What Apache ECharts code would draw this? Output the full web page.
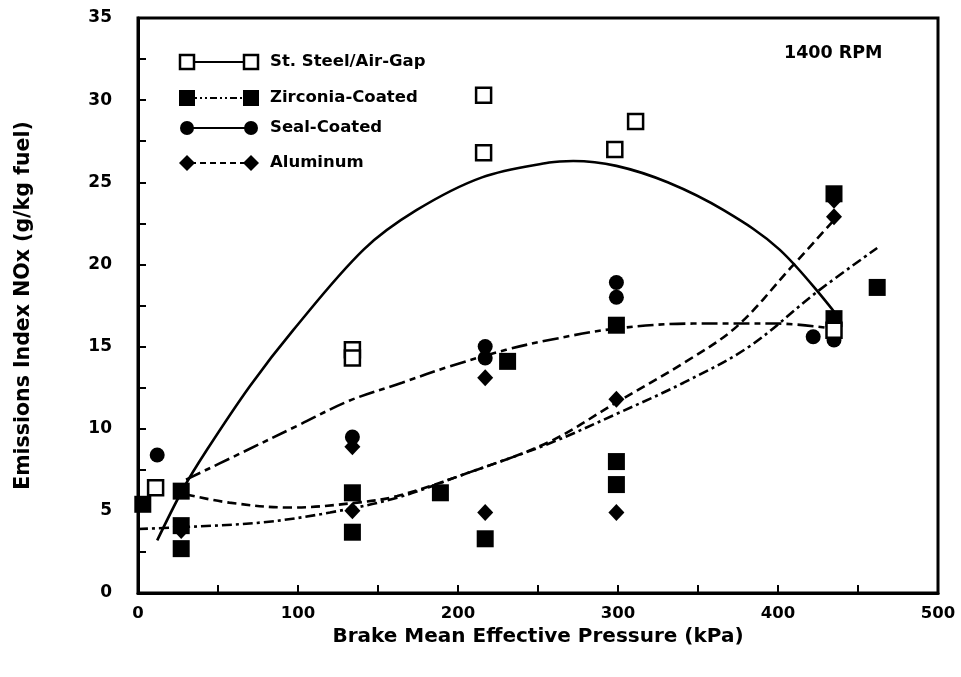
<!DOCTYPE html>
<html>
<head>
<meta charset="utf-8">
<script src="https://cdn.jsdelivr.net/npm/echarts@6/dist/echarts.min.js"></script>
<style>
  html, body { margin: 0; padding: 0; background: #fff; }
  #chart { width: 961px; height: 677px; }
</style>
</head>
<body>
<div id="chart"></div>
<script>
// measured points, [BMEP kPa, EI NOx g/kg]
const stSteelPts = [[11, 6.4], [134, 14.8], [134, 14.3], [216, 30.3], [216, 26.8], [298, 27.0], [311, 28.7], [435, 16.0]];
const zirconiaPts = [[3, 5.4], [27, 6.2], [27, 4.1], [27, 2.7], [134, 6.1], [134, 3.7], [189, 6.1], [217, 3.3],
  [231, 14.1], [299, 16.3], [299, 8.0], [299, 6.6], [435, 24.3], [435, 16.7], [462, 18.6]];
const sealPts = [[12, 8.4], [134, 9.5], [217, 15.0], [217, 14.3], [299, 18.9], [299, 18.0], [422, 15.6], [435, 15.4]];
const aluminumPts = [[27, 3.8], [134, 8.9], [134, 5.0], [217, 13.1], [217, 4.9], [299, 11.8], [299, 4.9], [435, 23.9], [435, 22.9]];

// fitted curves
const stSteelFit = [[12, 3.2], [28, 6.3], [43, 8.7], [70, 12.6], [97, 16.0], [141, 20.9], [174, 23.3], [215, 25.3],
  [257, 26.2], [272, 26.3], [299, 26.0], [331, 25.0], [366, 23.3], [401, 20.9], [436, 17.0]];
const sealFit = [[30, 6.9], [64, 8.5], [100, 10.2], [132, 11.7], [165, 12.8], [195, 13.8], [230, 14.8], [257, 15.4],
  [299, 16.1], [347, 16.4], [399, 16.4], [434, 16.1]];
const aluminumFit = [[30, 6.0], [57, 5.5], [95, 5.2], [137, 5.5], [162, 5.9], [203, 7.2], [257, 9.2], [299, 11.6],
  [341, 14.0], [374, 16.2], [408, 19.8], [435, 22.7]];
const zirconiaFit = [[0, 3.9], [26, 4.0], [78, 4.3], [120, 4.9], [162, 5.8], [203, 7.2], [257, 9.1], [299, 10.9],
  [341, 12.8], [382, 15.0], [424, 18.3], [462, 21.0]];

const legendNames = ['St. Steel/Air-Gap', 'Zirconia-Coated', 'Seal-Coated', 'Aluminum'];

const chart = echarts.init(document.getElementById('chart'));
const FONT = '"DejaVu Sans", Arial, sans-serif';

function symbolAt(kind, cx, cy) {
  if (kind === 'open') {
    return { type: 'rect', shape: { x: cx - 7, y: cy - 7, width: 14, height: 14 },
      style: { fill: '#fff', stroke: '#000', lineWidth: 2.5 } };
  }
  if (kind === 'square') {
    return { type: 'rect', shape: { x: cx - 8, y: cy - 8, width: 16, height: 16 }, style: { fill: '#000' } };
  }
  if (kind === 'circle') {
    return { type: 'circle', shape: { cx: cx, cy: cy, r: 7 }, style: { fill: '#000' } };
  }
  return { type: 'polygon', shape: { points: [[cx, cy - 8], [cx + 8, cy], [cx, cy + 8], [cx - 8, cy]] }, style: { fill: '#000' } };
}

const legendKinds = ['open', 'square', 'circle', 'diamond'];
const legendDash = [null, [7, 3, 2, 3, 2, 3], null, [6, 4]];
const legendRows = [62, 98, 128, 163];
const legendGraphic = [];
legendRows.forEach((y, i) => {
  legendGraphic.push({ type: 'line', shape: { x1: 190, y1: y, x2: 250, y2: y },
    style: { stroke: '#000', lineWidth: 2, lineDash: legendDash[i] } });
  legendGraphic.push(symbolAt(legendKinds[i], 187, y));
  legendGraphic.push(symbolAt(legendKinds[i], 251, y));
  legendGraphic.push({ type: 'text', x: 270, y: y, style: { text: legendNames[i], fill: '#000',
    font: 'bold 16.5px ' + FONT, verticalAlign: 'middle' } });
});
legendGraphic.push({ type: 'text', x: 784, y: 53, style: { text: '1400 RPM', fill: '#000',
  font: 'bold 17.5px ' + FONT, verticalAlign: 'middle' } });

function fitSeries(data, dash) {
  return { type: 'line', data: data, smooth: 0.35, showSymbol: false, silent: true, z: 2,
    lineStyle: { color: '#000', width: 2.6, type: dash } };
}

chart.setOption({
  animation: false,
  backgroundColor: '#fff',
  grid: { left: 138, right: 23, top: 18, bottom: 84, show: true, borderColor: '#000', borderWidth: 3 },
  xAxis: {
    type: 'value', min: 0, max: 500, interval: 100,
    name: 'Brake Mean Effective Pressure (kPa)', nameLocation: 'middle', nameGap: 34,
    nameTextStyle: { fontFamily: FONT, fontWeight: 'bold', fontSize: 20, color: '#000' },
    axisLine: { lineStyle: { color: '#000', width: 3 } },
    axisTick: { inside: true, length: 8, lineStyle: { color: '#000', width: 2 } },
    minorTick: { show: true, splitNumber: 2, length: 8, lineStyle: { color: '#000', width: 2 } },
    splitLine: { show: false },
    axisLabel: { margin: 12, fontFamily: FONT, fontWeight: 'bold', fontSize: 16.5, color: '#000' }
  },
  yAxis: {
    type: 'value', min: 0, max: 35, interval: 5,
    name: 'Emissions Index NOx (g/kg fuel)', nameLocation: 'middle', nameGap: 104, nameRotate: 90,
    nameTextStyle: { fontFamily: FONT, fontWeight: 'bold', fontSize: 20.5, color: '#000' },
    axisLine: { lineStyle: { color: '#000', width: 3 } },
    axisTick: { inside: true, length: 8, lineStyle: { color: '#000', width: 2 } },
    minorTick: { show: true, splitNumber: 2, length: 8, lineStyle: { color: '#000', width: 2 } },
    splitLine: { show: false },
    axisLabel: { margin: 26, fontFamily: FONT, fontWeight: 'bold', fontSize: 17, color: '#000' }
  },
  graphic: legendGraphic,
  series: [
    fitSeries(stSteelFit, 'solid'),
    fitSeries(sealFit, [16, 5, 6, 5]),
    fitSeries(aluminumFit, [9, 5]),
    fitSeries(zirconiaFit, [10, 4, 3, 4]),
    { name: legendNames[0], type: 'scatter', data: stSteelPts, symbol: 'rect', symbolSize: 15, z: 4,
      itemStyle: { color: '#fff', borderColor: '#000', borderWidth: 2.5, opacity: 1 } },
    { name: legendNames[1], type: 'scatter', data: zirconiaPts, symbol: 'rect', symbolSize: 17, z: 3,
      itemStyle: { color: '#000', opacity: 1 } },
    { name: legendNames[2], type: 'scatter', data: sealPts, symbol: 'circle', symbolSize: 15, z: 3,
      itemStyle: { color: '#000', opacity: 1 } },
    { name: legendNames[3], type: 'scatter', data: aluminumPts, symbol: 'diamond', symbolSize: [16, 17], z: 3,
      itemStyle: { color: '#000', opacity: 1 } }
  ]
});
</script>
</body>
</html>
